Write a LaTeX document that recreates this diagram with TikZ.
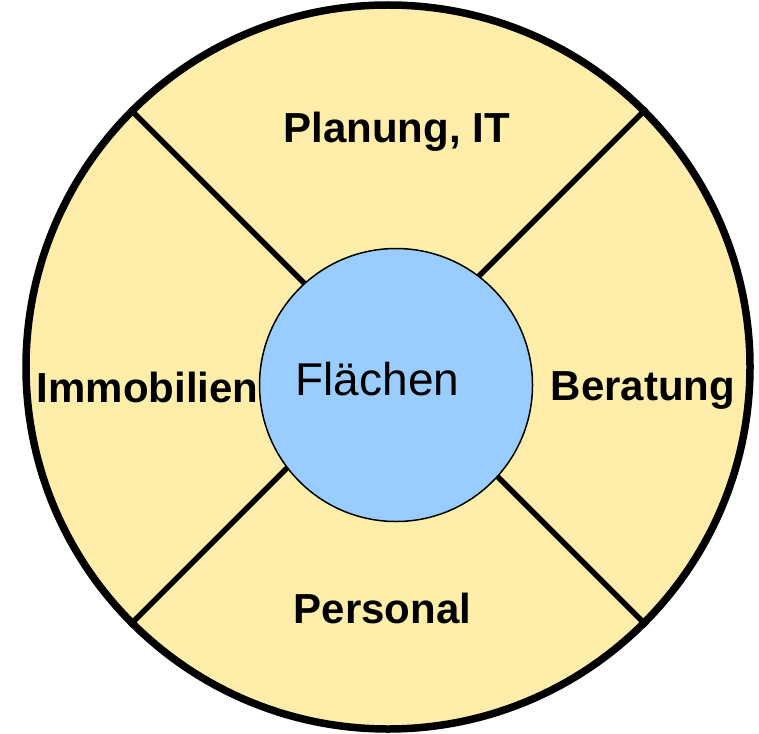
\documentclass[tikz,border=0pt]{standalone}
\usepackage{fontspec}
\setmainfont{Liberation Sans}
\usepackage{xcolor}
\usepackage{tikz}
\definecolor{giallo}{HTML}{FFEEAA}
\definecolor{azzurro}{HTML}{99CCFF}

\begin{document}
\begin{tikzpicture}[x=1pt, y=-1pt,
        etichetta/.style={anchor=base, font=\fontsize{42}{48}\selectfont\bfseries}]
        \useasboundingbox (0,0) rectangle (759,733);

        % Cerchio esterno
        \node[circle, draw, line width=7.5pt, fill=giallo, inner sep=0pt, minimum size=724pt] (esterno) at (388,367) {};
        % Raggi
        \foreach \a in {45,135,225,315}
            \draw[line width=5.5pt] (esterno.center) -- (esterno.\a);

        % Cerchio interno
        \node[circle, draw, line width=1.5pt, fill=azzurro, inner sep=0pt, minimum size=273pt] (interno) at (396,385) {};
        \node[anchor=base, font=\fontsize{46}{52}\selectfont] (flaechen) at (377.5,395) {Flächen};

        % Annotazioni
        \node[etichetta] (planung) at (396.5,142) {Planung, IT};
        \node[etichetta] (immobilien) at (147.5,402) {Immobilien};
        \node[etichetta] (beratung) at (643,400) {Beratung};
        \node[etichetta] (personal) at (382.5,623) {Personal};
    \end{tikzpicture}
\end{document}
